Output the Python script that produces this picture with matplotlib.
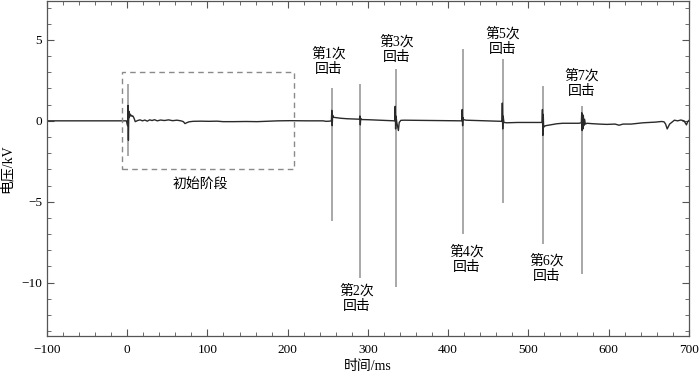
import matplotlib
matplotlib.use("Agg")
import matplotlib.pyplot as plt
from matplotlib.patches import Rectangle
from matplotlib.ticker import MultipleLocator

plt.rcParams['font.family'] = ['Liberation Serif', 'Noto Sans CJK SC', 'DejaVu Sans']
plt.rcParams['axes.unicode_minus'] = True

# 电压波形，每行时间与电压一一对应
time_ms = [
    -100, -1, 0.5, 1, 1.5, 2, 2.5, 3, 4, 5, 6, 7, 8, 9, 10,
    13, 16, 19, 22, 25, 28, 31, 34, 37.5, 41.5, 46.5, 51.5, 56.5, 62, 67, 70, 72, 74, 77, 82,
    92, 102, 112, 119.5, 132.5, 148, 162, 173, 188, 203.5, 224, 244, 248, 252,
    254.5, 255, 255.5, 256, 257, 260, 266, 274, 282.5, 289.5, 290, 290.5, 291, 292,
    300, 310, 320, 330, 333.5, 334, 334.5, 335, 336, 337, 338, 339, 341, 345,
    360.5, 380.5, 401, 417, 417.5, 418, 418.5, 419, 422, 436, 451.5, 466.5,
    467, 467.5, 468, 468.5, 469.5, 473, 487, 502, 517,
    517.5, 518, 518.5, 519, 519.5, 521.5, 527.5, 535.5, 543, 553, 563, 566,
    566.5, 567, 567.5, 568, 568.5, 569, 570, 571, 573, 578,
    588, 598, 608, 613, 618, 628, 643, 658, 666, 669, 671, 673, 676, 682, 686, 690, 694, 697, 698.5, 700,
]
volt_kv = [
    0.0, 0.0, -0.3, 0.95, -1.2, 0.6, 0.2, 0.45, 0.3, 0.35, 0.28, 0.3, 0.22, 0.1, -0.05,
    0.02, 0.06, 0.0, 0.05, -0.02, 0.06, 0.02, 0.07, 0.0, 0.05, 0.02, 0.06, 0.01, 0.04, 0.0, -0.05, -0.17, -0.12, -0.06, -0.03,
    -0.02, -0.03, -0.02, -0.05, -0.05, -0.04, -0.05, -0.03, 0.0, 0.01, 0.0, 0.0, -0.03, -0.02,
    0.0, 0.65, -0.3, 0.35, 0.22, 0.2, 0.16, 0.13, 0.11, 0.1, 0.3, -0.25, 0.15, 0.08,
    0.07, 0.05, 0.03, 0.01, 0.0, 0.9, -0.5, 0.3, -0.1, -0.35, -0.6, -0.1, 0.03, 0.04,
    0.03, 0.02, 0.0, 0.0, 0.7, -0.3, 0.2, 0.08, 0.04, 0.02, 0.0, -0.03,
    -0.04, 1.1, -0.5, 0.3, -0.1, -0.12, -0.1, -0.1, -0.1,
    0.7, -0.9, 0.4, -0.4, -0.35, -0.3, -0.25, -0.18, -0.15, -0.15, -0.15, -0.12,
    0.5, -0.6, 0.4, -0.5, 0.3, -0.3, 0.1, -0.2, -0.15, -0.17,
    -0.2, -0.22, -0.2, -0.27, -0.2, -0.2, -0.12, -0.08, -0.04, -0.06, -0.2, -0.5, -0.2, 0.04, 0.0, 0.05, 0.0, -0.25, -0.05, 0.02,
]

# 回击灰色竖线
stroke_t = [1, 254.8, 290, 334.5, 418, 468.2, 518, 566.7]
stroke_top = [2.3, 2.04, 2.28, 3.2, 4.44, 3.8, 2.16, 0.93]
stroke_bot = [-2.16, -6.17, -9.7, -10.3, -6.98, -5.07, -7.6, -9.44]

# 标注
label_text = ['第1次\n回击', '第2次\n回击', '第3次\n回击', '第4次\n回击',
              '第5次\n回击', '第6次\n回击', '第7次\n回击']
label_x = [251.4, 286.3, 336.1, 423.4, 468.2, 523, 566.7]
label_y = [3.64, -11.0, 4.4, -8.6, 4.9, -9.1, 2.3]

box_x = [-6.9, 207.8]
box_y = [-2.95, 3.0]

fig = plt.figure(figsize=(7, 3.79), dpi=100)
ax = fig.add_axes([0.0671, 0.1135, 0.917, 0.8835])

ax.vlines(stroke_t, stroke_bot, stroke_top, color='#9a9a9a', lw=1.2, zorder=1)
ax.plot(time_ms, volt_kv, color='#2a2a2a', lw=1.0, zorder=2)

ax.add_patch(Rectangle((box_x[0], box_y[0]), box_x[1] - box_x[0], box_y[1] - box_y[0],
                       fill=False, ls=(0, (4, 3)), lw=1.0, ec='#8a8a8a', zorder=3))
ax.text(90.7, -4.0, '初始阶段', ha='center', va='center', fontsize=10)

for s, x, y in zip(label_text, label_x, label_y):
    ax.text(x, y, s, ha='center', va='center', fontsize=10, linespacing=1.25)

ax.set_xlim(-100, 700)
ax.set_ylim(-13.3, 7.4)
ax.xaxis.set_major_locator(MultipleLocator(100))
ax.xaxis.set_minor_locator(MultipleLocator(20))
ax.yaxis.set_major_locator(MultipleLocator(5))
ax.yaxis.set_minor_locator(MultipleLocator(1))
ax.tick_params(which='both', direction='in', top=True, right=True, labelsize=9.5,
               color='#555555')
ax.tick_params(which='major', length=5, width=0.8)
ax.tick_params(which='minor', length=3, width=0.6)
ax.tick_params(axis='x', which='major', pad=6)
for sp in ax.spines.values():
    sp.set_color('#555555')
    sp.set_linewidth(0.9)

ax.set_xlabel('时间/ms', fontsize=10, labelpad=3)
ax.set_ylabel('电压/kV', fontsize=10)
ax.yaxis.set_label_coords(-0.052, 0.5)

fig.savefig('out.png', dpi=100)
